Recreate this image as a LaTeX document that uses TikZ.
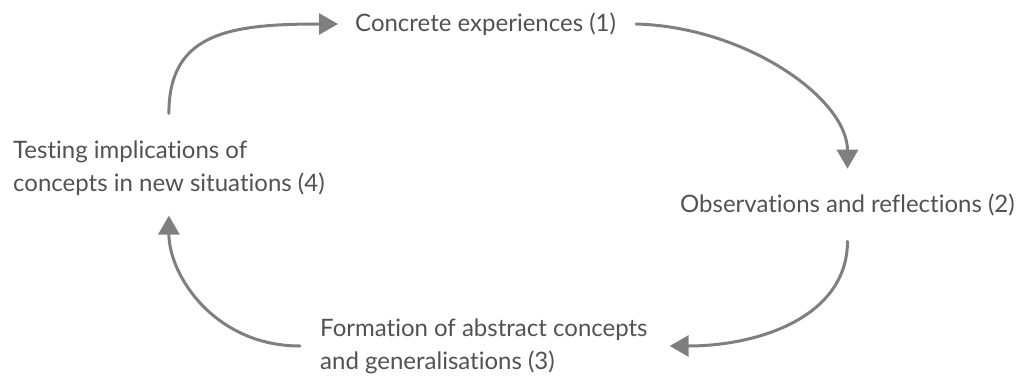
\documentclass[tikz,border=0pt]{standalone}
\usepackage{fontspec}
\setmainfont{Lato}[Ligatures=NoCommon]
\usetikzlibrary{arrows.meta}
\definecolor{txt}{HTML}{525252}
\definecolor{arr}{HTML}{7F7F7F}
\tikzset{
  lbl/.style={inner sep=0pt, text=txt, align=left, font=\fontsize{24}{33}\selectfont},
  cyc/.style={draw=arr, line width=3pt, line cap=round,
    -{Triangle[length=19pt, width=21pt]}}
}
\begin{document}
\begin{tikzpicture}[x=1pt, y=-1pt]
\useasboundingbox (0,0) rectangle (1021,378);
% the four stages of the cycle
\node[lbl, anchor=west] (n1) at (355,24) {Concrete experiences (1)};
\node[lbl, anchor=west] (n2) at (680,205) {Observations and reflections (2)};
\node[lbl, anchor=west] (n3) at (320,346) {Formation of abstract concepts\\and generalisations (3)};
\node[lbl, anchor=west] (n4) at (13,168) {Testing implications of\\concepts in new situations (4)};
% curved arrows between the stages
\draw[cyc] ([yshift=27pt]n4.north) .. controls +(0,-80) and +(-110,0) .. ([xshift=-17pt]n1.west);
\draw[cyc] ([xshift=20pt]n1.east) .. controls +(110,3) and +(0,-70) .. ([yshift=25pt]n2.north);
\draw[cyc] ([yshift=-25pt]n2.south) .. controls +(0,75) and +(90,0) .. ([xshift=22pt]n3.east);
\draw[cyc] ([xshift=-20pt]n3.west) .. controls +(-85,0) and +(0,60) .. ([yshift=-20pt]n4.south);
\end{tikzpicture}
\end{document}
